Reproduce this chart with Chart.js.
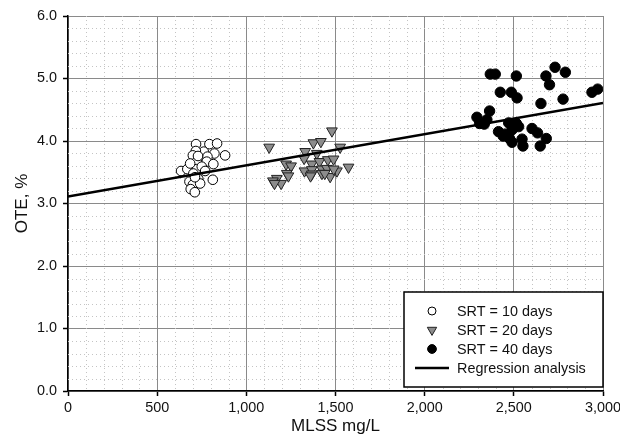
<!DOCTYPE html>
<html>
<head>
<meta charset="utf-8">
<script src="https://cdn.jsdelivr.net/npm/chart.js@4.4.0/dist/chart.umd.min.js"></script>
<style>
  html, body { margin: 0; padding: 0; background: #fff; }
  #wrap { width: 620px; height: 441px; }
</style>
</head>
<body>
<div id="wrap"><canvas id="oteChart" width="620" height="441"></canvas></div>
<script>
// SRT = 10 days (open circles)
const srt10X = [718, 793, 836, 881, 821, 761, 717, 700, 782, 722, 778, 815, 634, 669,
                722, 750, 703, 731, 812, 681, 700, 741, 688, 711, 685, 729, 769, 712];
const srt10Y = [3.95, 3.95, 3.96, 3.77, 3.80, 3.83, 3.84, 3.77, 3.75, 3.67, 3.67, 3.63, 3.52, 3.55,
                3.55, 3.59, 3.48, 3.39, 3.38, 3.35, 3.30, 3.32, 3.23, 3.18, 3.64, 3.76, 3.52, 3.42];

// SRT = 20 days (grey triangles)
const srt20X = [1128, 1480, 1376, 1418, 1526, 1330, 1395, 1324, 1223, 1251, 1367, 1410, 1457, 1489,
                1573, 1326, 1367, 1424, 1452, 1508, 1227, 1236, 1367, 1424, 1470, 1171, 1149, 1195,
                1158, 1490, 1440, 1360];
const srt20Y = [3.90, 4.16, 3.97, 3.99, 3.90, 3.83, 3.80, 3.72, 3.63, 3.60, 3.63, 3.67, 3.70, 3.71,
                3.58, 3.52, 3.54, 3.55, 3.56, 3.52, 3.48, 3.44, 3.47, 3.48, 3.43, 3.40, 3.36, 3.32,
                3.32, 3.55, 3.48, 3.44];

// SRT = 40 days (black dots)
const srt40X = [2368, 2396, 2514, 2680, 2731, 2789, 2700, 2424, 2486, 2518, 2652, 2776, 2938, 2970,
                2364, 2293, 2349, 2308, 2471, 2514, 2414, 2452, 2490, 2527, 2476, 2602, 2633, 2546,
                2682, 2551, 2648, 2440, 2490, 2491, 2334];
const srt40Y = [5.07, 5.07, 5.04, 5.04, 5.18, 5.10, 4.90, 4.78, 4.78, 4.69, 4.60, 4.67, 4.78, 4.83,
                4.48, 4.38, 4.34, 4.28, 4.29, 4.28, 4.15, 4.11, 4.18, 4.23, 4.04, 4.20, 4.13, 4.03,
                4.04, 3.92, 3.92, 4.08, 3.98, 4.24, 4.27];

// regression line end points
const regX = [0, 3000];
const regY = [3.11, 4.61];

// axes
const xTicks = [0, 500, 1000, 1500, 2000, 2500, 3000];
const yTicks = [0, 1, 2, 3, 4, 5, 6];
const xMinorStep = 100;
const yMinorStep = 0.2;

const FONT = "'Liberation Sans', Arial, sans-serif";

function toPoints(xs, ys) {
    return xs.map((x, i) => ({ x: x, y: ys[i] }));
}

// dotted minor grid between the major lines
const minorGrid = {
    id: "minorGrid",
    beforeDatasetsDraw(chart) {
        const { ctx, chartArea: a, scales: { x, y } } = chart;
        ctx.save();
        ctx.strokeStyle = "#c4c4c4";
        ctx.lineWidth = 1;
        ctx.setLineDash([1, 3]);
        ctx.beginPath();
        for (let v = xMinorStep; v < x.max; v += xMinorStep) {
            if (v % 500 === 0) continue;
            const px = Math.round(x.getPixelForValue(v)) + 0.5;
            ctx.moveTo(px, a.top);
            ctx.lineTo(px, a.bottom);
        }
        for (let i = 1; i * yMinorStep < y.max - 0.01; i++) {
            if (i % 5 === 0) continue;
            const py = Math.round(y.getPixelForValue(i * yMinorStep)) + 0.5;
            ctx.moveTo(a.left, py);
            ctx.lineTo(a.right, py);
        }
        ctx.stroke();
        ctx.restore();
    },
};

// boxed legend in the lower right of the plot
const boxLegend = {
    id: "boxLegend",
    afterDatasetsDraw(chart) {
        const { ctx, chartArea: a } = chart;
        const w = 199, h = 95;
        const left = a.right - w, top = a.bottom - 4 - h;
        ctx.save();
        ctx.fillStyle = "#fff";
        ctx.fillRect(left, top, w, h);
        ctx.strokeStyle = "#000";
        ctx.lineWidth = 1.5;
        ctx.strokeRect(left, top, w, h);

        ctx.font = "14.4px " + FONT;
        ctx.textBaseline = "middle";
        chart.data.datasets.forEach((ds, i) => {
            const ry = top + 19 + i * 19;
            if (ds.type === "line") {
                ctx.strokeStyle = "#000";
                ctx.lineWidth = 2.5;
                ctx.beginPath();
                ctx.moveTo(left + 11, ry);
                ctx.lineTo(left + 45, ry);
                ctx.stroke();
            } else {
                ctx.fillStyle = ds.backgroundColor;
                ctx.strokeStyle = ds.borderColor;
                ctx.lineWidth = ds.borderWidth;
                Chart.helpers.drawPoint(ctx, {
                    pointStyle: ds.pointStyle,
                    rotation: ds.rotation || 0,
                    radius: ds.pointRadius - 0.8,
                    borderWidth: ds.borderWidth,
                }, left + 28, ry);
            }
            ctx.fillStyle = "#111";
            ctx.textAlign = "left";
            ctx.fillText(ds.label, left + 53, ry + 1);
        });
        ctx.restore();
    },
};

const ctx = document.getElementById("oteChart").getContext("2d");
const oteChart = new Chart(ctx, {
    type: "scatter",
    data: {
        datasets: [
            {
                label: "SRT = 10 days",
                data: toPoints(srt10X, srt10Y),
                pointStyle: "circle",
                pointRadius: 4.8,
                backgroundColor: "#fff",
                borderColor: "#000",
                borderWidth: 1,
                order: 3,
            },
            {
                label: "SRT = 20 days",
                data: toPoints(srt20X, srt20Y),
                pointStyle: "triangle",
                rotation: 180,
                pointRotation: 180,
                pointRadius: 6.2,
                backgroundColor: "#8c8c8c",
                borderColor: "#222",
                borderWidth: 1,
                order: 2,
            },
            {
                label: "SRT = 40 days",
                data: toPoints(srt40X, srt40Y),
                pointStyle: "circle",
                pointRadius: 5.2,
                backgroundColor: "#000",
                borderColor: "#000",
                borderWidth: 1,
                order: 1,
            },
            {
                type: "line",
                label: "Regression analysis",
                data: toPoints(regX, regY),
                borderColor: "#000",
                borderWidth: 2.5,
                pointRadius: 0,
                fill: false,
                order: 0,
            },
        ],
    },
    options: {
        responsive: false,
        animation: false,
        layout: { padding: { top: 16, right: 0, left: 0, bottom: 0 } },
        plugins: {
            legend: { display: false },
            tooltip: { enabled: false },
        },
        scales: {
            x: {
                type: "linear",
                min: xTicks[0],
                max: xTicks[xTicks.length - 1],
                afterBuildTicks: (s) => { s.ticks = xTicks.map((v) => ({ value: v })); },
                afterFit: (s) => { s.height = 50; s.paddingRight = 17; },
                ticks: {
                    color: "#111",
                    padding: 3,
                    maxRotation: 0,
                    font: { family: FONT, size: 14.4 },
                    callback: (v) => v.toLocaleString("en-US"),
                },
                grid: {
                    color: "#8a8a8a",
                    lineWidth: 1,
                    tickLength: 5,
                    tickColor: "#000",
                    tickWidth: 1.5,
                },
                border: { color: "#000", width: 1.5 },
                title: {
                    display: true,
                    text: "MLSS mg/L",
                    color: "#111",
                    font: { family: FONT, size: 17 },
                    padding: { top: 0, bottom: 4 },
                },
            },
            y: {
                type: "linear",
                min: yTicks[0],
                max: yTicks[yTicks.length - 1],
                afterBuildTicks: (s) => { s.ticks = yTicks.map((v) => ({ value: v })); },
                afterFit: (s) => { s.width = 68; },
                ticks: {
                    color: "#111",
                    padding: 6,
                    font: { family: FONT, size: 14.4 },
                    callback: (v) => Number(v).toFixed(1),
                },
                grid: {
                    color: "#8a8a8a",
                    lineWidth: 1,
                    tickLength: 5,
                    tickColor: "#000",
                    tickWidth: 1.5,
                },
                border: { color: "#000", width: 1.5 },
                title: {
                    display: true,
                    text: "OTE, %",
                    color: "#111",
                    font: { family: FONT, size: 17 },
                    padding: { top: 12, bottom: 0 },
                },
            },
        },
    },
    plugins: [minorGrid, boxLegend],
});
</script>
</body>
</html>
